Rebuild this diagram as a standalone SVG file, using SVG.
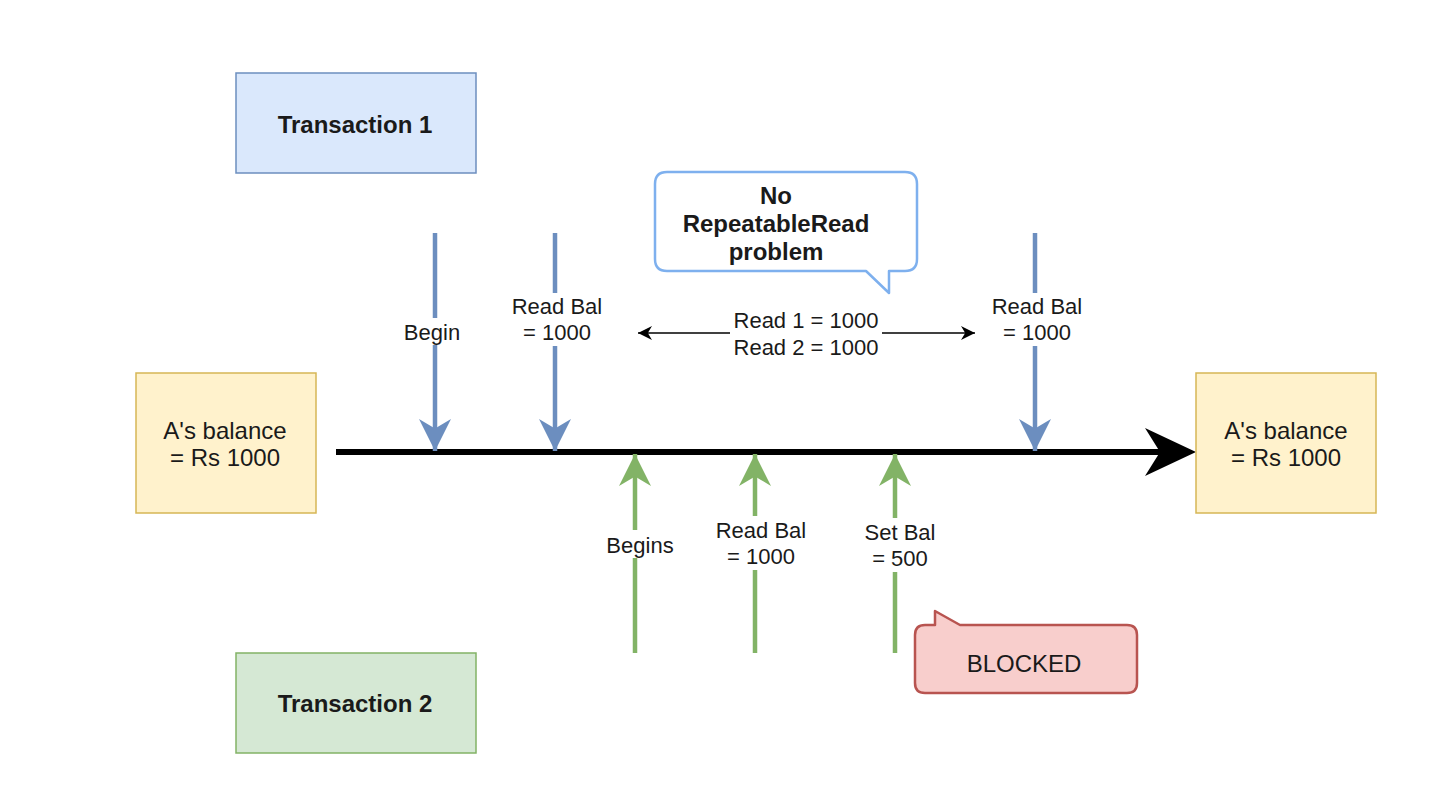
<svg xmlns="http://www.w3.org/2000/svg" width="1450" height="802" viewBox="0 0 1450 802">
<defs>
<style>
.t{font-family:"Liberation Sans",Arial,sans-serif;fill:#1a1a1a;text-anchor:middle}
.b{font-weight:bold;font-size:24px}
.r{font-size:24px}
.l{font-size:22px}
.blue{stroke:#6c8ebf;stroke-width:4.5;fill:none}
.green{stroke:#82b366;stroke-width:4.5;fill:none}
.lbg{fill:#ffffff}
</style>
<marker id="ab" viewBox="0 0 10 10" refX="10" refY="5" markerUnits="userSpaceOnUse" markerWidth="32" markerHeight="32" orient="auto">
<path d="M10,5 L0,0 L3,5 L0,10 Z" fill="#6c8ebf"/>
</marker>
<marker id="ag" viewBox="0 0 10 10" refX="10" refY="5" markerUnits="userSpaceOnUse" markerWidth="32" markerHeight="32" orient="auto">
<path d="M10,5 L0,0 L3,5 L0,10 Z" fill="#82b366"/>
</marker>
<marker id="ak" viewBox="0 0 10 10" refX="10" refY="5" markerUnits="userSpaceOnUse" markerWidth="14" markerHeight="14" orient="auto-start-reverse">
<path d="M10,5 L0,0 L3,5 L0,10 Z" fill="#000000"/>
</marker>
</defs>
<rect width="1450" height="802" fill="#ffffff"/>

<g id="connectors">
<line x1="336" y1="452" x2="1160" y2="452" stroke="#000000" stroke-width="6"/>
<path d="M1196,452 L1145,428 L1160,452 L1145,476 Z" fill="#000000"/>
<line class="blue" x1="435" y1="233" x2="435" y2="451" marker-end="url(#ab)"/>
<line class="blue" x1="555" y1="233" x2="555" y2="451" marker-end="url(#ab)"/>
<line class="blue" x1="1035" y1="233" x2="1035" y2="451" marker-end="url(#ab)"/>
<line class="green" x1="635" y1="653" x2="635" y2="454" marker-end="url(#ag)"/>
<line class="green" x1="755" y1="653" x2="755" y2="454" marker-end="url(#ag)"/>
<line class="green" x1="895" y1="653" x2="895" y2="454" marker-end="url(#ag)"/>
<line x1="638" y1="333" x2="975" y2="333" stroke="#000000" stroke-width="1.5" marker-start="url(#ak)" marker-end="url(#ak)"/>
<rect class="lbg" x="402" y="318" width="60" height="27"/>
<rect class="lbg" x="510" y="293" width="94" height="53"/>
<rect class="lbg" x="990" y="293" width="94" height="53"/>
<rect class="lbg" x="604" y="530" width="72" height="28"/>
<rect class="lbg" x="714" y="516" width="94" height="54"/>
<rect class="lbg" x="862" y="518" width="76" height="54"/>
<rect class="lbg" x="730" y="306" width="152" height="54"/>
<text class="t l" x="432" y="340">Begin</text>
<text class="t l" x="557" y="314">Read Bal</text>
<text class="t l" x="557" y="340">= 1000</text>
<text class="t l" x="1037" y="314">Read Bal</text>
<text class="t l" x="1037" y="340">= 1000</text>
<text class="t l" x="640" y="553">Begins</text>
<text class="t l" x="761" y="538">Read Bal</text>
<text class="t l" x="761" y="564">= 1000</text>
<text class="t l" x="900" y="540">Set Bal</text>
<text class="t l" x="900" y="566">= 500</text>
<text class="t l" x="806" y="328">Read 1 = 1000</text>
<text class="t l" x="806" y="355">Read 2 = 1000</text>
</g>

<g id="tx1">
<rect x="236" y="73" width="240" height="100" fill="#dae8fc" stroke="#6c8ebf" stroke-width="1.5"/>
<text class="t b" x="355" y="133">Transaction 1</text>
</g>
<g id="tx2">
<rect x="236" y="653" width="240" height="100" fill="#d5e8d4" stroke="#82b366" stroke-width="1.5"/>
<text class="t b" x="355" y="712">Transaction 2</text>
</g>
<g id="balance-start">
<rect x="136" y="373" width="180" height="140" fill="#fff2cc" stroke="#d6b656" stroke-width="1.5"/>
<text class="t r" x="225" y="439">A's balance</text>
<text class="t r" x="225" y="466">= Rs 1000</text>
</g>
<g id="balance-end">
<rect x="1196" y="373" width="180" height="140" fill="#fff2cc" stroke="#d6b656" stroke-width="1.5"/>
<text class="t r" x="1286" y="439">A's balance</text>
<text class="t r" x="1286" y="466">= Rs 1000</text>
</g>
<g id="callout-no-rr">
<path d="M667,172 H905 Q917,172 917,184 V259 Q917,271 905,271 H889 V293 L866,271 H667 Q655,271 655,259 V184 Q655,172 667,172 Z" fill="#ffffff" stroke="#7eb0ee" stroke-width="2.5" stroke-linejoin="round"/>
<text class="t b" x="776" y="204">No</text>
<text class="t b" x="776" y="232">RepeatableRead</text>
<text class="t b" x="776" y="260">problem</text>
</g>
<g id="callout-blocked">
<path d="M925,625 H935 V611 L960,625 H1127 Q1137,625 1137,635 V683 Q1137,693 1127,693 H925 Q915,693 915,683 V635 Q915,625 925,625 Z" fill="#f8cecc" stroke="#b85450" stroke-width="2.5" stroke-linejoin="round"/>
<text class="t r" x="1024" y="672">BLOCKED</text>
</g>
</svg>
